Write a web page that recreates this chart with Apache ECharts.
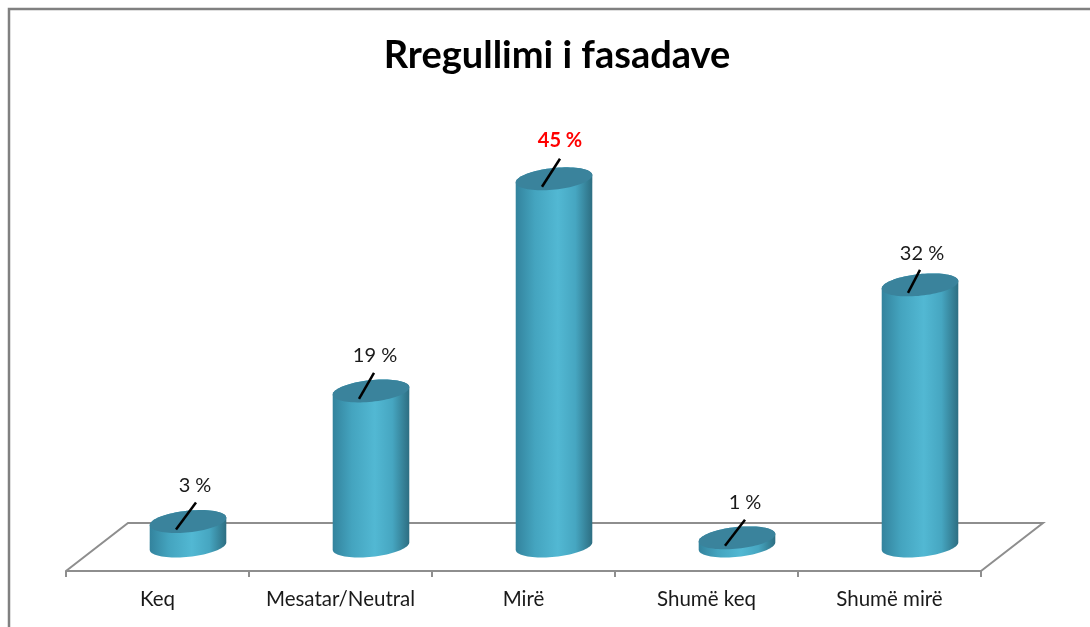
<!DOCTYPE html>
<html>
<head>
<meta charset="utf-8">
<style>html,body{margin:0;padding:0;background:#fff}#c{width:1090px;height:627px}</style>
<script src="https://cdn.jsdelivr.net/npm/echarts@6/dist/echarts.min.js"></script>
</head>
<body>
<div id="c"></div>
<script>
const titleText = 'Rregullimi i fasadave';
const categories = ['Keq', 'Mesatar/Neutral', 'Mirë', 'Shumë keq', 'Shumë mirë'];
const percents = [3, 19, 45, 1, 32];
const highlightedCategory = 'Mirë';

const FLOOR_DX = 62, FLOOR_DY = 48;
const BAR_DX = 30.5, BAR_DY = 25;
const RX = 38.5, RY = 10.8, TILT = -6 * Math.PI / 180;
// Hand-placed label and leader-line nudges, per category (layout only)
const labelNudgeX = [7, 4, 6, 8, 2];
const labelNudgeY = [-36, -35, -38, -35, -31];
const leaderTipX = [8, 3, 6, 8, 0];
const leaderTipY = [-19, -18, -20, -18, -15];

function ellipsePoint(cx, cy, t) {
  const c = Math.cos(t), s = Math.sin(t), cr = Math.cos(TILT), sr = Math.sin(TILT);
  return [cx + RX * c * cr - RY * s * sr, cy + RX * c * sr + RY * s * cr];
}
function arc(cx, cy, from, to, n) {
  const pts = [];
  for (let i = 0; i <= n; i++) pts.push(ellipsePoint(cx, cy, from + (to - from) * i / n));
  return pts;
}
function renderCylinder(params, api) {
  const i = api.value(0), v = api.value(1);
  const base = api.coord([i, 0]), top = api.coord([i, v]);
  const cx = base[0] + BAR_DX, by = base[1] - BAR_DY, ty = top[1] - BAR_DY;
  const body = arc(cx, by, 0, Math.PI, 40).concat(arc(cx, ty, Math.PI, 2 * Math.PI, 40));
  const isHi = categories[i] === highlightedCategory;
  return {
    type: 'group',
    children: [
      { type: 'polygon', shape: { points: body }, style: {
          fill: new echarts.graphic.LinearGradient(0, 0, 1, 0, [
            { offset: 0, color: '#33839d' },
            { offset: 0.25, color: '#44a4bf' },
            { offset: 0.55, color: '#52b8d3' },
            { offset: 0.78, color: '#46a6c1' },
            { offset: 1, color: '#2d6e82' }
          ]) } },
      { type: 'polygon', shape: { points: arc(cx, ty, 0, 2 * Math.PI, 80) }, style: { fill: '#3a839c' } },
      { type: 'line', shape: { x1: cx - 12, y1: ty + 8, x2: cx + leaderTipX[i], y2: ty + leaderTipY[i] },
        style: { stroke: '#000', lineWidth: 2.5 } },
      { type: 'text', x: cx + labelNudgeX[i], y: ty + labelNudgeY[i], style: {
          text: v + ' %', align: 'center', verticalAlign: 'middle',
          fontFamily: 'Lato', fontSize: 20, fontWeight: isHi ? 'bold' : 'normal',
          fill: isHi ? '#ff0000' : '#1a1a1a' } }
    ]
  };
}
function renderFloor(params, api) {
  const cs = params.coordSys;
  const x0 = cs.x, x1 = cs.x + cs.width, y = cs.y + cs.height;
  return { type: 'polyline', shape: { points: [
      [x0, y], [x0 + FLOOR_DX, y - FLOOR_DY], [x1 + FLOOR_DX, y - FLOOR_DY], [x1, y]
    ] }, style: { stroke: '#8e8e8e', lineWidth: 2, fill: 'none' } };
}

const chart = echarts.init(document.getElementById('c'), null, { renderer: 'canvas' });
chart.setOption({
  animation: false,
  backgroundColor: '#fff',
  title: { text: titleText, left: 552, top: 32, textAlign: 'center',
    textStyle: { fontFamily: 'Lato', fontSize: 38, fontWeight: 'bold', color: '#000' } },
  grid: { left: 66, right: 109, top: 163, bottom: 56 },
  xAxis: { type: 'category', data: categories,
    axisLine: { lineStyle: { color: '#8e8e8e', width: 2 } },
    axisTick: { show: true, length: 6, alignWithLabel: false, lineStyle: { color: '#8e8e8e', width: 2 } },
    axisLabel: { fontFamily: 'Lato', fontSize: 20.5, color: '#1a1a1a', margin: 18, interval: 0 } },
  yAxis: { type: 'value', min: 0, max: 50, interval: 10, show: false },
  graphic: [{ type: 'polyline', silent: true, shape: { points: [[9, 627], [9, 9], [1090, 9]] },
    style: { stroke: '#808080', lineWidth: 2.5, fill: 'none' } }],
  series: [
    { type: 'custom', renderItem: renderFloor, data: [[0, 0]], silent: true, clip: false, z: 1 },
    { type: 'custom', renderItem: renderCylinder, clip: false, z: 2,
      encode: { x: 0, y: 1 },
      data: percents.map((p, i) => [i, p]) }
  ]
});
</script>
</body>
</html>
